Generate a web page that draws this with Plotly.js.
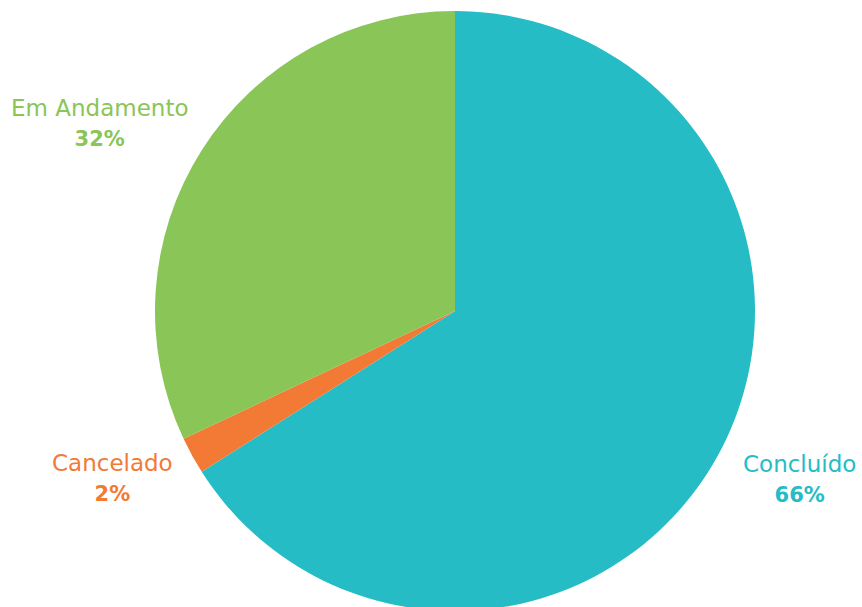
<!DOCTYPE html>
<html><head><meta charset="utf-8">
<script src="https://cdn.plot.ly/plotly-3.0.1.min.js"></script>
<style>html,body{margin:0;padding:0;overflow:hidden;background:#fff}</style>
</head><body><div id="chart"></div>
<script>
const categories = ["Concluído", "Cancelado", "Em Andamento"];
const values = [66, 2, 32];
const colors = ["#26BCC6", "#F27A34", "#8AC557"];
const labelPos = [[799, 479], [112, 478], [99, 123]]; // label centers in pixels

const W = 862, H = 612, T = 11, L = 155, R = 107, B = 1;
const pw = W - L - R, ph = H - T - B;
const annotations = categories.map((c, i) => ({
  xref: 'paper', yref: 'paper',
  x: (labelPos[i][0] - L) / pw, y: (H - B - labelPos[i][1]) / ph,
  xanchor: 'center', yanchor: 'middle',
  text: c + '<br><span style="font-size:21px"><b>' + values[i] + '%</b></span>',
  showarrow: false, align: 'center',
  font: {family: '"DejaVu Sans", sans-serif', size: 23, weight: 400, color: colors[i]}
}));

Plotly.newPlot('chart', [{
  type: 'pie', labels: categories, values: values,
  sort: false, direction: 'clockwise', rotation: 0,
  marker: {colors: colors, line: {width: 0}},
  textinfo: 'none', hoverinfo: 'label+percent'
}], {
  width: W, height: H, showlegend: false,
  margin: {l: L, r: R, t: T, b: B},
  paper_bgcolor: '#fff', annotations: annotations
}, {displayModeBar: false, staticPlot: true});
</script></body></html>
